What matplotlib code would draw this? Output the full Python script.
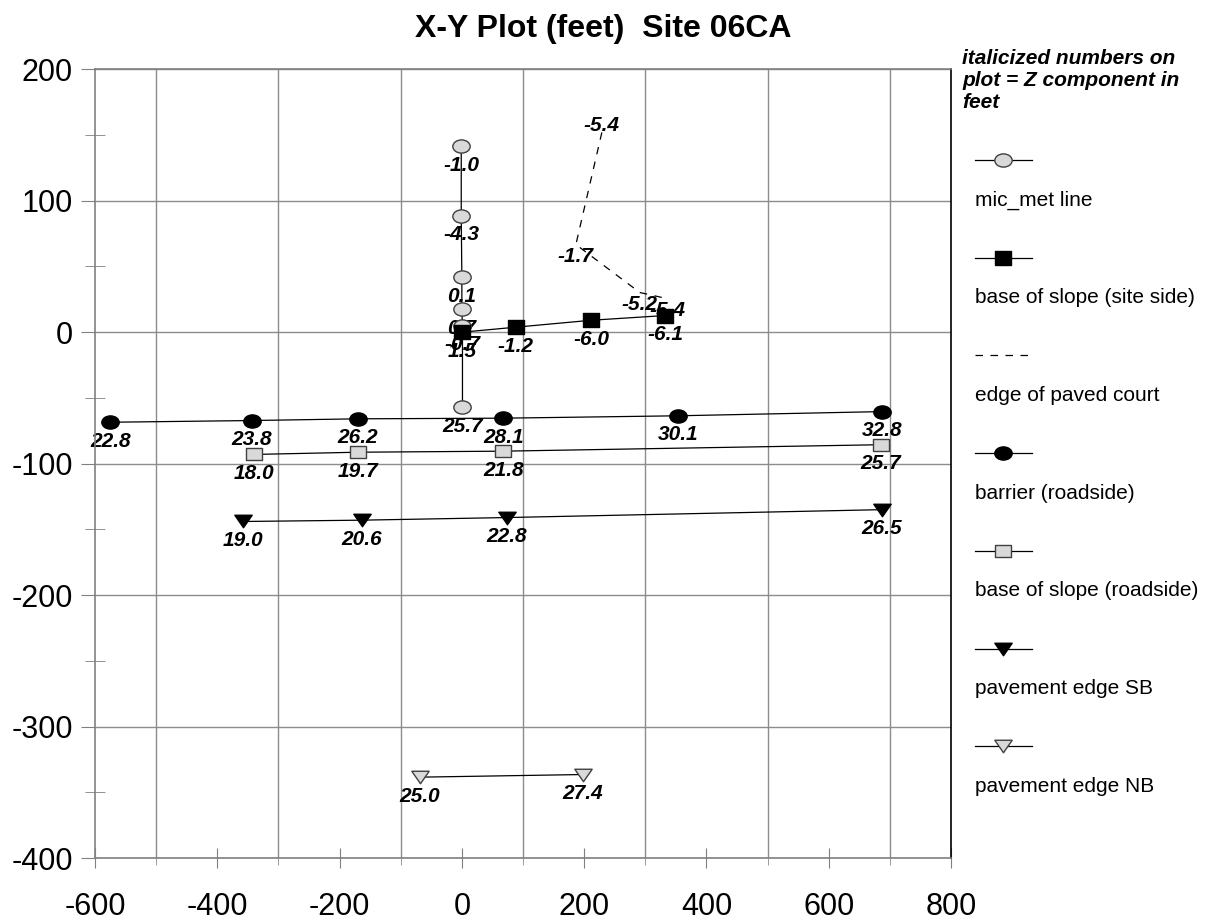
import matplotlib
matplotlib.use("Agg")
import matplotlib.pyplot as plt
from matplotlib.path import Path
from matplotlib.lines import Line2D
import numpy as np

plt.rcParams["font.family"] = ["Liberation Sans", "DejaVu Sans"]
plt.rcParams["axes.unicode_minus"] = False

# survey points (x, y in feet) and the Z value written under each one
mic_x = [-1, -1, 0, 0, 1, 1]
mic_y = [141.5, 88.5, 41.8, 17.3, 5, -57]
mic_z = ["-1.0", "-4.3", "0.1", "0.7", "-0.7", "25.7"]

site_x = [0, 88, 212, 333]
site_y = [0, 3.8, 9.1, 12.7]
site_z = ["1.5", "-1.2", "-6.0", "-6.1"]

court_x = [229, 186.5, 291, 337]
court_y = [152, 66.7, 30.2, 25.4]
court_z = ["-5.4", "-1.7", "-5.2", "-5.4"]

barrier_x = [-575, -344, -170, 68, 353, 687]
barrier_y = [-68.5, -67.2, -65.9, -65.4, -63.6, -60.4]
barrier_z = ["22.8", "23.8", "26.2", "28.1", "30.1", "32.8"]

road_x = [-340, -170, 68, 685]
road_y = [-93, -91.3, -90.5, -85.6]
road_z = ["18.0", "19.7", "21.8", "25.7"]

sb_x = [-358, -164, 74, 687]
sb_y = [-144, -143, -141, -135]
sb_z = ["19.0", "20.6", "22.8", "26.5"]

nb_x = [-69, 198]
nb_y = [-338.5, -336.5]
nb_z = ["25.0", "27.4"]

legend_names = ["mic_met line", "base of slope (site side)", "edge of paved court",
                 "barrier (roadside)", "base of slope (roadside)",
                 "pavement edge SB", "pavement edge NB"]


def ellipse(aspect):
    c = Path.unit_circle()
    return Path(c.vertices * [1, aspect], c.codes)


def rect(aspect):
    return Path([(-1, -aspect), (1, -aspect), (1, aspect), (-1, aspect), (-1, -aspect)], closed=True)


def tri_down(aspect):
    return Path([(-1, aspect), (1, aspect), (0, -aspect), (-1, aspect)], closed=True)


GRAY = "#d9d9d9"
styles = [
    dict(marker=ellipse(0.76), mfc=GRAY, mec="#404040", ms=12.5, ls="-"),
    dict(marker=rect(0.88), mfc="black", mec="black", ms=12, ls="-"),
    dict(marker=None, ls=(0, (6, 6))),
    dict(marker=ellipse(0.76), mfc="black", mec="black", ms=12.5, ls="-"),
    dict(marker=rect(0.8), mfc=GRAY, mec="#404040", ms=11.5, ls="-"),
    dict(marker=tri_down(0.72), mfc="black", mec="black", ms=12.5, ls="-"),
    dict(marker=tri_down(0.72), mfc=GRAY, mec="#404040", ms=12.5, ls="-"),
]
data = [(mic_x, mic_y, mic_z), (site_x, site_y, site_z), (court_x, court_y, court_z),
        (barrier_x, barrier_y, barrier_z), (road_x, road_y, road_z),
        (sb_x, sb_y, sb_z), (nb_x, nb_y, nb_z)]

W, H = 1207, 921
fig = plt.figure(figsize=(W / 100, H / 100), dpi=100)
ax = fig.add_axes([95 / W, 1 - 858 / H, 856 / W, 788.7 / H])

ax.set_xlim(-600, 800)
ax.set_ylim(-400, 200)
ax.set_xticks(np.arange(-600, 801, 200))
ax.set_xticks(np.arange(-500, 701, 200), minor=True)
ax.set_yticks(np.arange(-400, 201, 100))
ax.set_yticks(np.arange(-350, 151, 100), minor=True)
ax.grid(True, axis="x", which="minor", color="#8c8c8c", lw=1)
ax.grid(True, axis="y", which="major", color="#8c8c8c", lw=1)
ax.set_axisbelow(True)
ax.tick_params(axis="x", which="major", direction="inout", length=15, color="#808080",
               labelsize=22, pad=17)
ax.tick_params(axis="x", which="minor", direction="out", length=5, color="#8c8c8c")
ax.tick_params(axis="y", which="major", direction="out", length=10, color="#808080",
               labelsize=22, pad=6)
ax.tick_params(axis="y", which="minor", direction="inout", length=14, color="#808080")
for side in ["left", "bottom", "top"]:
    ax.spines[side].set_color("#808080")
    ax.spines[side].set_linewidth(1.2)
ax.spines["right"].set_color("black")
ax.spines["right"].set_linewidth(1.2)

for i, ((xs, ys, zs), st) in enumerate(zip(data, styles)):
    ax.plot(xs, ys, color="black", lw=0.9, zorder=3, **st)
    for j, (x, y, z) in enumerate(zip(xs, ys, zs)):
        dy = -19
        if st["marker"] is None:
            dy = 7 if j == 0 else -12
        ax.annotate(z, (x, y), xytext=(0, dy), textcoords="offset pixels",
                    ha="center", va="center", fontsize=15, fontweight="bold",
                    fontstyle="italic", zorder=2)

fig.text(0.5, 1 - 29 / H, "X-Y Plot (feet)  Site 06CA", ha="center", va="center",
         fontsize=23, fontweight="bold")

fig.text(962 / W, 1 - 80 / H, "italicized numbers on\nplot = Z component in\nfeet",
         ha="left", va="center", fontsize=15, fontweight="bold", fontstyle="italic",
         linespacing=1.2)

# legend: sample line above each label
lax = fig.add_axes([0, 0, 1, 1])
lax.set_xlim(0, W)
lax.set_ylim(H, 0)
lax.axis("off")
for k, (name, st) in enumerate(zip(legend_names, styles)):
    yy = 160 + k * 97.7
    if st["marker"] is None:
        lax.add_line(Line2D([975, 1032], [yy, yy], color="black", lw=0.9, ls=(0, (6, 6))))
    else:
        lax.add_line(Line2D([975, 1032], [yy, yy], color="black", lw=0.9))
        lax.add_line(Line2D([1003], [yy], ls="none", marker=st["marker"], mfc=st["mfc"],
                            mec=st["mec"], ms=st["ms"]))
    lax.text(975, yy + 40, name, ha="left", va="center", fontsize=15)

fig.savefig("out.png", dpi=100)
